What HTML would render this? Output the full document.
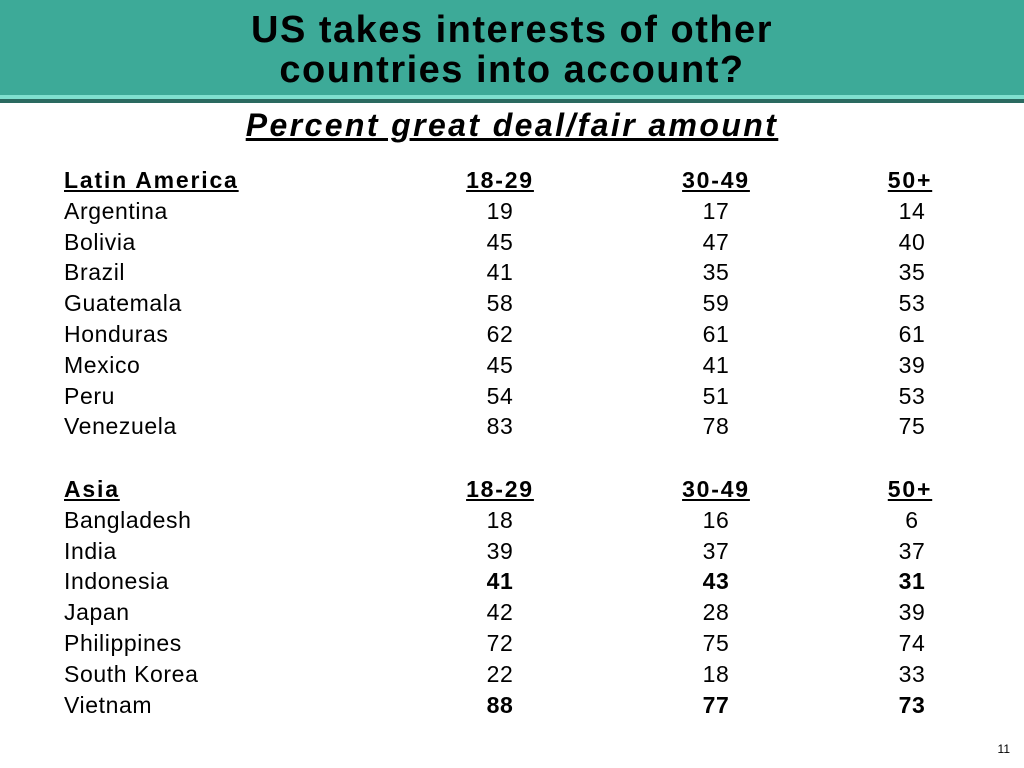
<!DOCTYPE html>
<html><head><meta charset="utf-8"><style>
body{margin:0;width:1024px;height:768px;background:#fff;position:relative;overflow:hidden;font-family:"Liberation Sans",sans-serif;}
#hdr{position:absolute;left:0;top:0;width:1024px;height:95px;background:#3daa98;}
#bev1{position:absolute;left:0;top:95px;width:1024px;height:4px;background:#7fe0cf;}
#bev2{position:absolute;left:0;top:99px;width:1024px;height:4px;background:#2a6a60;}
.t{position:absolute;left:0;width:1024px;text-align:center;font-weight:bold;font-size:38px;letter-spacing:1.5px;color:#000;}
#sub{position:absolute;left:0;width:1024px;top:107px;text-align:center;font-weight:bold;font-style:italic;font-size:32px;letter-spacing:2.4px;text-decoration:underline;}
.c{position:absolute;font-size:23px;line-height:28px;white-space:nowrap;letter-spacing:0.6px;}
.n{text-align:center;width:80px;}
.h{font-weight:bold;text-decoration:underline;letter-spacing:1.8px;}
.b{font-weight:bold;}
#pg{position:absolute;right:14px;top:742px;font-size:12px;}
</style></head><body>
<div id="hdr"></div>
<div id="bev1"></div>
<div id="bev2"></div>
<div class="t" style="top:9px">US takes interests of other</div>
<div class="t" style="top:49px">countries into account?</div>
<div id="sub">Percent great deal/fair amount</div>
<div id="tbl"></div>
<div id="pg">11</div>
<script>
const latinCountries=["Argentina","Bolivia","Brazil","Guatemala","Honduras","Mexico","Peru","Venezuela"];
const latin1829=[19,45,41,58,62,45,54,83];
const latin3049=[17,47,35,59,61,41,51,78];
const latin50=[14,40,35,53,61,39,53,75];
const asiaCountries=["Bangladesh","India","Indonesia","Japan","Philippines","South Korea","Vietnam"];
const asia1829=[18,39,41,42,72,22,88];
const asia3049=[16,37,43,28,75,18,77];
const asia50=[6,37,31,39,74,33,73];
const asiaBold=[false,false,true,false,false,false,true];
const ageHeaders=["18-29","30-49","50+"];
const tbl=document.getElementById('tbl');
const colX=[460,676,870];
const valX=[460,676,872];
function cell(txt,x,y,cls,name){
  const d=document.createElement('div');
  d.className='c '+cls;d.textContent=txt;d.style.left=x+'px';d.style.top=y+'px';
  
  
  tbl.appendChild(d);
}
function section(title,y0,countries,a,b,c,bold){
  cell(title,64,y0-14,'h',title.toLowerCase().replace(/ /g,'-')+'-header');
  ageHeaders.forEach((h,i)=>cell(h,colX[i],y0-14,'h n','age-header-'+h));
  countries.forEach((co,r)=>{
    const y=y0-14+(r+1)*30.8;
    cell(co,64,y,'','country-'+co.toLowerCase().replace(/ /g,'-'));
    [a,b,c].forEach((arr,i)=>cell(String(arr[r]),valX[i],y,'n'+(bold&&bold[r]?' b':''),'value-'+co.toLowerCase().replace(/ /g,'-')+'-'+ageHeaders[i]));
  });
}
section("Latin America",180,latinCountries,latin1829,latin3049,latin50,null);
section("Asia",489,asiaCountries,asia1829,asia3049,asia50,asiaBold);
</script>
</body></html>
